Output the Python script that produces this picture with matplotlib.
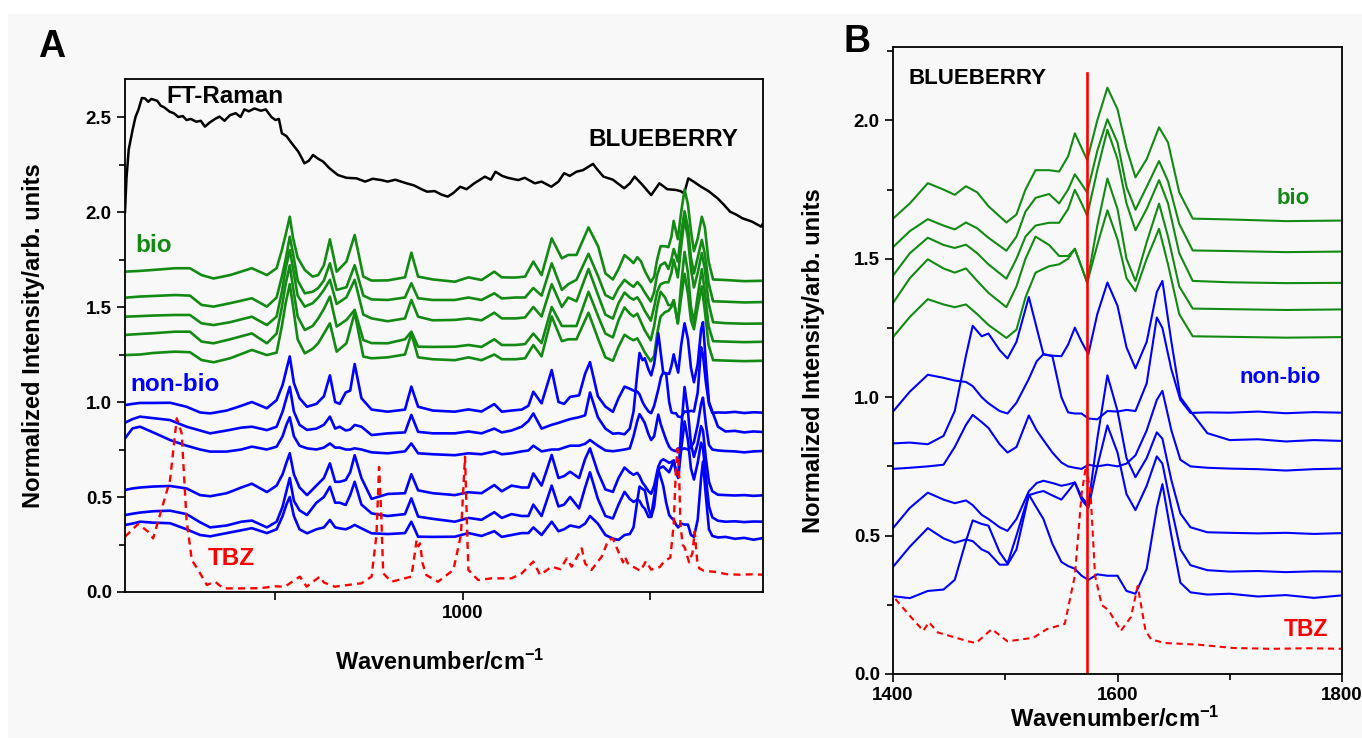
import matplotlib
matplotlib.use('Agg')
import matplotlib.pyplot as plt
from matplotlib.patches import Rectangle
from matplotlib.ticker import MultipleLocator, FixedLocator, FixedFormatter, FormatStrFormatter

plt.rcParams['font.family'] = ['Liberation Sans', 'DejaVu Sans']
plt.rcParams['font.weight'] = 'bold'
plt.rcParams['axes.labelweight'] = 'bold'
plt.rcParams['mathtext.default'] = 'regular'

# ---------------- data (wavenumber / cm-1, normalized intensity) ----------------
# bio samples (green), shared wavenumber grid
bio_x = [100, 140, 175, 233, 273, 304, 336, 380, 438, 478,
         504, 518, 528, 539, 548, 560, 579, 600, 615, 630,
         646, 664, 690, 712, 735, 757, 800, 846, 863, 881,
         920, 979, 1015, 1050, 1084, 1104, 1140, 1166, 1188, 1210,
         1237, 1264, 1281, 1303, 1335, 1361, 1380, 1400, 1415, 1431,
         1445, 1455, 1465, 1475, 1485, 1501, 1510, 1518, 1527, 1539,
         1548, 1556, 1562, 1568, 1573, 1582, 1591, 1600, 1608, 1616,
         1626, 1637, 1645, 1655, 1667, 1700, 1750, 1800]

bio_1 = [1.686, 1.690, 1.695, 1.704, 1.704, 1.668, 1.650, 1.668, 1.704, 1.668,
         1.704, 1.800, 1.880, 1.975, 1.860, 1.760, 1.695, 1.660, 1.668, 1.720,
         1.856, 1.686, 1.739, 1.879, 1.660, 1.639, 1.640, 1.656, 1.786, 1.660,
         1.645, 1.633, 1.656, 1.642, 1.686, 1.656, 1.655, 1.660, 1.739, 1.668,
         1.861, 1.756, 1.774, 1.774, 1.919, 1.818, 1.677, 1.645, 1.700, 1.773,
         1.750, 1.731, 1.762, 1.740, 1.690, 1.631, 1.660, 1.750, 1.820, 1.820,
         1.815, 1.870, 1.953, 1.900, 1.857, 2.000, 2.118, 2.040, 1.900, 1.794,
         1.860, 1.975, 1.920, 1.740, 1.645, 1.642, 1.636, 1.638]
bio_2 = [1.549, 1.555, 1.558, 1.563, 1.560, 1.511, 1.502, 1.520, 1.546, 1.502,
         1.550, 1.660, 1.750, 1.870, 1.780, 1.640, 1.572, 1.580, 1.600, 1.640,
         1.730, 1.590, 1.604, 1.720, 1.560, 1.540, 1.537, 1.550, 1.625, 1.546,
         1.537, 1.537, 1.550, 1.537, 1.572, 1.545, 1.550, 1.550, 1.600, 1.560,
         1.730, 1.590, 1.620, 1.643, 1.780, 1.660, 1.563, 1.542, 1.600, 1.643,
         1.620, 1.606, 1.631, 1.610, 1.576, 1.529, 1.580, 1.670, 1.720, 1.734,
         1.700, 1.750, 1.805, 1.770, 1.739, 1.890, 2.004, 1.920, 1.760, 1.677,
         1.760, 1.853, 1.780, 1.626, 1.530, 1.528, 1.524, 1.526]
bio_3 = [1.449, 1.452, 1.455, 1.458, 1.458, 1.414, 1.405, 1.420, 1.449, 1.405,
         1.450, 1.580, 1.700, 1.800, 1.700, 1.560, 1.502, 1.520, 1.550, 1.590,
         1.643, 1.516, 1.551, 1.643, 1.460, 1.440, 1.425, 1.440, 1.537, 1.449,
         1.430, 1.432, 1.440, 1.430, 1.470, 1.440, 1.440, 1.445, 1.500, 1.450,
         1.620, 1.500, 1.550, 1.530, 1.700, 1.560, 1.460, 1.439, 1.520, 1.576,
         1.550, 1.539, 1.551, 1.520, 1.480, 1.428, 1.500, 1.580, 1.620, 1.630,
         1.630, 1.680, 1.749, 1.700, 1.656, 1.820, 1.966, 1.860, 1.700, 1.603,
         1.680, 1.784, 1.700, 1.520, 1.420, 1.415, 1.412, 1.413]
bio_4 = [1.353, 1.358, 1.362, 1.370, 1.370, 1.318, 1.309, 1.330, 1.361, 1.309,
         1.360, 1.500, 1.620, 1.720, 1.600, 1.450, 1.379, 1.400, 1.440, 1.490,
         1.555, 1.397, 1.432, 1.485, 1.326, 1.310, 1.309, 1.330, 1.370, 1.291,
         1.290, 1.291, 1.300, 1.290, 1.330, 1.300, 1.300, 1.305, 1.360, 1.310,
         1.500, 1.400, 1.400, 1.400, 1.580, 1.450, 1.360, 1.340, 1.430, 1.498,
         1.465, 1.450, 1.465, 1.420, 1.377, 1.325, 1.400, 1.500, 1.580, 1.550,
         1.510, 1.510, 1.536, 1.470, 1.414, 1.620, 1.790, 1.680, 1.500, 1.420,
         1.560, 1.699, 1.580, 1.400, 1.320, 1.318, 1.315, 1.317]
bio_5 = [1.247, 1.250, 1.258, 1.265, 1.262, 1.221, 1.209, 1.230, 1.274, 1.247,
         1.260, 1.400, 1.520, 1.620, 1.500, 1.330, 1.256, 1.280, 1.310, 1.360,
         1.414, 1.265, 1.309, 1.470, 1.239, 1.230, 1.235, 1.250, 1.360, 1.235,
         1.225, 1.220, 1.235, 1.220, 1.250, 1.225, 1.225, 1.230, 1.300, 1.240,
         1.450, 1.320, 1.330, 1.330, 1.470, 1.330, 1.235, 1.217, 1.290, 1.354,
         1.335, 1.325, 1.335, 1.300, 1.261, 1.214, 1.244, 1.360, 1.450, 1.473,
         1.480, 1.500, 1.536, 1.470, 1.414, 1.550, 1.675, 1.570, 1.430, 1.383,
         1.500, 1.608, 1.480, 1.300, 1.220, 1.218, 1.215, 1.217]

# non-bio samples (blue), shared wavenumber grid
nonbio_x = [100, 120, 140, 175, 220, 264, 300, 327, 371, 410,
            438, 478, 504, 520, 530, 539, 550, 565, 585, 610,
            630, 646, 660, 672, 688, 700, 712, 730, 757, 800,
            846, 863, 881, 920, 979, 1015, 1050, 1084, 1104, 1130,
            1157, 1175, 1188, 1210, 1237, 1255, 1270, 1286, 1310, 1326,
            1339, 1360, 1380, 1400, 1415, 1431, 1445, 1455, 1465, 1471,
            1479, 1485, 1495, 1502, 1510, 1521, 1528, 1534, 1542, 1550,
            1556, 1562, 1568, 1574, 1582, 1591, 1600, 1608, 1616, 1626,
            1635, 1640, 1648, 1656, 1665, 1680, 1700, 1725, 1750, 1775,
            1800]

nonbio_1 = [0.984, 0.990, 0.995, 0.995, 0.996, 0.975, 0.945, 0.940, 0.955, 0.980,
            1.000, 0.967, 1.010, 1.090, 1.170, 1.240, 1.100, 1.020, 0.975, 0.990,
            1.030, 1.140, 1.000, 0.990, 1.050, 1.060, 1.200, 1.020, 0.960, 0.949,
            0.960, 1.081, 0.975, 0.955, 0.949, 0.961, 0.950, 0.989, 0.949, 0.955,
            0.960, 0.980, 1.054, 0.993, 1.168, 1.000, 0.990, 1.027, 1.035, 1.149,
            1.210, 1.030, 0.976, 0.948, 1.020, 1.081, 1.070, 1.060, 1.055, 1.040,
            1.000, 0.978, 0.950, 0.941, 0.980, 1.066, 1.130, 1.155, 1.148, 1.000,
            0.945, 0.941, 0.941, 0.923, 0.920, 0.950, 0.948, 0.954, 0.950, 1.050,
            1.288, 1.250, 1.100, 0.990, 0.943, 0.945, 0.944, 0.948, 0.942, 0.946,
            0.944]
nonbio_2 = [0.891, 0.910, 0.923, 0.915, 0.905, 0.870, 0.850, 0.835, 0.850, 0.865,
            0.870, 0.852, 0.870, 0.950, 1.020, 1.080, 0.950, 0.880, 0.853, 0.860,
            0.880, 0.923, 0.860, 0.870, 0.850, 0.855, 0.879, 0.870, 0.826, 0.835,
            0.840, 0.932, 0.843, 0.835, 0.835, 0.845, 0.835, 0.860, 0.840, 0.850,
            0.870, 0.900, 0.940, 0.860, 0.880, 0.890, 0.900, 0.910, 0.920, 0.930,
            1.050, 0.920, 0.860, 0.833, 0.836, 0.830, 0.860, 0.950, 1.150, 1.258,
            1.220, 1.230, 1.170, 1.140, 1.200, 1.362, 1.250, 1.155, 1.150, 1.148,
            1.190, 1.251, 1.200, 1.155, 1.300, 1.414, 1.330, 1.180, 1.104, 1.200,
            1.380, 1.420, 1.200, 1.000, 0.950, 0.870, 0.845, 0.848, 0.840, 0.845,
            0.842]
nonbio_3 = [0.809, 0.861, 0.870, 0.840, 0.800, 0.770, 0.750, 0.739, 0.739, 0.750,
            0.765, 0.750, 0.765, 0.820, 0.880, 0.920, 0.820, 0.770, 0.756, 0.750,
            0.760, 0.782, 0.760, 0.760, 0.750, 0.750, 0.756, 0.750, 0.735, 0.730,
            0.740, 0.782, 0.730, 0.725, 0.720, 0.730, 0.725, 0.740, 0.725, 0.730,
            0.740, 0.745, 0.770, 0.740, 0.750, 0.750, 0.760, 0.770, 0.770, 0.780,
            0.800, 0.770, 0.745, 0.741, 0.745, 0.750, 0.756, 0.820, 0.900, 0.936,
            0.910, 0.889, 0.830, 0.800, 0.820, 0.934, 0.880, 0.845, 0.800, 0.764,
            0.750, 0.745, 0.741, 0.756, 0.750, 0.756, 0.750, 0.760, 0.790, 0.880,
            0.990, 1.023, 0.880, 0.774, 0.750, 0.745, 0.742, 0.740, 0.735, 0.740,
            0.742]
nonbio_4 = [0.537, 0.545, 0.550, 0.555, 0.558, 0.545, 0.510, 0.504, 0.520, 0.550,
            0.570, 0.526, 0.560, 0.620, 0.680, 0.730, 0.620, 0.550, 0.510, 0.560,
            0.600, 0.677, 0.580, 0.580, 0.589, 0.630, 0.720, 0.600, 0.490, 0.516,
            0.520, 0.620, 0.535, 0.520, 0.510, 0.525, 0.520, 0.563, 0.530, 0.560,
            0.550, 0.550, 0.624, 0.560, 0.721, 0.600, 0.610, 0.633, 0.600, 0.700,
            0.756, 0.630, 0.540, 0.527, 0.600, 0.655, 0.630, 0.617, 0.627, 0.610,
            0.575, 0.560, 0.530, 0.517, 0.560, 0.660, 0.690, 0.698, 0.690, 0.680,
            0.685, 0.692, 0.640, 0.610, 0.850, 1.079, 0.950, 0.780, 0.711, 0.780,
            0.873, 0.850, 0.700, 0.580, 0.530, 0.512, 0.510, 0.508, 0.510, 0.506,
            0.509]
nonbio_5 = [0.405, 0.412, 0.418, 0.425, 0.428, 0.410, 0.367, 0.340, 0.350, 0.370,
            0.376, 0.340, 0.370, 0.450, 0.530, 0.600, 0.480, 0.430, 0.405, 0.470,
            0.500, 0.554, 0.470, 0.470, 0.458, 0.510, 0.580, 0.460, 0.414, 0.400,
            0.410, 0.493, 0.397, 0.385, 0.370, 0.390, 0.380, 0.420, 0.390, 0.410,
            0.400, 0.400, 0.460, 0.400, 0.560, 0.450, 0.460, 0.500, 0.440, 0.550,
            0.630, 0.490, 0.400, 0.387, 0.460, 0.527, 0.490, 0.474, 0.486, 0.480,
            0.450, 0.439, 0.395, 0.395, 0.450, 0.646, 0.655, 0.661, 0.645, 0.630,
            0.660, 0.692, 0.630, 0.600, 0.750, 0.898, 0.800, 0.650, 0.592, 0.680,
            0.786, 0.760, 0.600, 0.450, 0.393, 0.375, 0.370, 0.372, 0.368, 0.371,
            0.370]
nonbio_6 = [0.353, 0.360, 0.370, 0.365, 0.362, 0.330, 0.300, 0.293, 0.310, 0.325,
            0.336, 0.310, 0.330, 0.400, 0.460, 0.500, 0.400, 0.330, 0.309, 0.330,
            0.340, 0.379, 0.340, 0.335, 0.330, 0.340, 0.353, 0.335, 0.309, 0.305,
            0.310, 0.370, 0.291, 0.290, 0.291, 0.310, 0.295, 0.320, 0.290, 0.300,
            0.310, 0.310, 0.340, 0.300, 0.370, 0.320, 0.330, 0.350, 0.340, 0.360,
            0.400, 0.360, 0.300, 0.281, 0.274, 0.300, 0.305, 0.340, 0.480, 0.555,
            0.542, 0.536, 0.440, 0.399, 0.500, 0.648, 0.600, 0.560, 0.470, 0.405,
            0.390, 0.380, 0.355, 0.340, 0.360, 0.355, 0.355, 0.300, 0.290, 0.380,
            0.600, 0.686, 0.500, 0.330, 0.295, 0.287, 0.290, 0.280, 0.285, 0.275,
            0.284]

# TBZ reference (red dashed)
tbz_x = [100, 135, 160, 175, 193, 220, 238, 251, 264, 278,
         295, 318, 340, 362, 406, 460, 500, 526, 566, 584,
         619, 630, 659, 730, 757, 770, 777, 783, 788, 810,
         863, 872, 877, 882, 886, 893, 903, 934, 975, 995,
         1006, 1012, 1015, 1041, 1077, 1130, 1157, 1188, 1206, 1237,
         1260, 1277, 1290, 1317, 1326, 1343, 1370, 1388, 1400, 1415,
         1427, 1432, 1440, 1467, 1474, 1488, 1502, 1525, 1537, 1553,
         1562, 1568, 1572, 1576, 1580, 1586, 1592, 1603, 1612, 1618,
         1625, 1630, 1642, 1672, 1703, 1737, 1770, 1800]
tbz_y = [0.291, 0.358, 0.320, 0.282, 0.405, 0.589, 0.914, 0.835, 0.379, 0.168,
         0.116, 0.037, 0.054, 0.019, 0.019, 0.020, 0.030, 0.028, 0.081, 0.028,
         0.081, 0.050, 0.028, 0.046, 0.081, 0.300, 0.658, 0.400, 0.098, 0.054,
         0.081, 0.200, 0.274, 0.240, 0.256, 0.150, 0.089, 0.054, 0.116, 0.300,
         0.712, 0.300, 0.116, 0.063, 0.072, 0.072, 0.098, 0.160, 0.090, 0.133,
         0.120, 0.177, 0.133, 0.230, 0.150, 0.116, 0.186, 0.274, 0.281, 0.210,
         0.156, 0.187, 0.150, 0.118, 0.112, 0.162, 0.118, 0.131, 0.162, 0.181,
         0.355, 0.650, 0.754, 0.655, 0.355, 0.249, 0.231, 0.156, 0.206, 0.318,
         0.156, 0.125, 0.112, 0.106, 0.094, 0.091, 0.093, 0.091]

# FT-Raman spectrum (black, panel A only)
ft_x = [100, 104, 110, 120, 128, 136, 145, 153, 162, 170,
        180, 186, 195, 205, 219, 230, 242, 254, 264, 275,
        290, 302, 313, 325, 340, 352, 365, 380, 395, 408,
        418, 430, 445, 462, 475, 490, 501, 510, 518, 530,
        545, 562, 572, 578, 590, 601, 615, 628, 645, 667,
        690, 717, 740, 760, 783, 800, 820, 850, 870, 890,
        905, 925, 945, 960, 975, 993, 1010, 1030, 1059, 1075,
        1087, 1105, 1120, 1148, 1165, 1192, 1210, 1236, 1255, 1270,
        1285, 1303, 1320, 1347, 1360, 1375, 1400, 1430, 1445, 1458,
        1480, 1502, 1524, 1545, 1568, 1580, 1590, 1601, 1615, 1635,
        1655, 1679, 1695, 1712, 1730, 1745, 1770, 1795, 1800]
ft_y = [2.000, 2.180, 2.330, 2.430, 2.500, 2.540, 2.600, 2.598, 2.580, 2.595,
        2.589, 2.585, 2.560, 2.550, 2.528, 2.520, 2.500, 2.505, 2.484, 2.490,
        2.475, 2.480, 2.449, 2.470, 2.490, 2.502, 2.480, 2.510, 2.520, 2.500,
        2.540, 2.530, 2.545, 2.533, 2.540, 2.500, 2.484, 2.490, 2.414, 2.400,
        2.360, 2.317, 2.280, 2.256, 2.270, 2.300, 2.280, 2.265, 2.230, 2.195,
        2.180, 2.177, 2.160, 2.175, 2.168, 2.160, 2.170, 2.151, 2.140, 2.120,
        2.107, 2.110, 2.090, 2.081, 2.100, 2.133, 2.120, 2.150, 2.186, 2.170,
        2.212, 2.190, 2.180, 2.168, 2.180, 2.151, 2.160, 2.133, 2.160, 2.204,
        2.190, 2.212, 2.220, 2.253, 2.220, 2.186, 2.170, 2.125, 2.150, 2.186,
        2.140, 2.089, 2.151, 2.120, 2.116, 2.110, 2.098, 2.177, 2.160, 2.133,
        2.110, 2.072, 2.040, 2.002, 1.985, 1.967, 1.950, 1.923, 1.940]

bio_series = [bio_1, bio_2, bio_3, bio_4, bio_5]
nonbio_series = [nonbio_1, nonbio_2, nonbio_3, nonbio_4, nonbio_5, nonbio_6]

marker_wavenumber = 1573   # red vertical line in panel B
marker_top = 2.17

GREEN = '#138a13'
BLUE = '#0000ff'
RED = '#ff0000'
BG = '#f8f8f8'

fig = plt.figure(figsize=(13.62, 7.38), dpi=100)
fig.patches.append(Rectangle((8 / 1362, 0), 1, 724 / 738, transform=fig.transFigure,
                             fc=BG, ec='none', zorder=-10))

axA = fig.add_axes([125 / 1362, 146 / 738, 638 / 1362, 513 / 738])
axB = fig.add_axes([893 / 1362, 64 / 738, 449 / 1362, 627 / 738])


def style_axis(ax):
    ax.set_facecolor(BG)
    for s in ax.spines.values():
        s.set_linewidth(1.3)
    ax.tick_params(which='both', direction='out', top=False, right=False,
                   labelsize=13.5, width=1.2)
    ax.tick_params(which='major', length=6)
    ax.tick_params(which='minor', length=4)
    for lab in ax.get_xticklabels() + ax.get_yticklabels():
        lab.set_fontweight('bold')


# ---------------- panel A ----------------
axA.plot(ft_x, ft_y, color='black', lw=1.8)
for ys in bio_series:
    axA.plot(bio_x, ys, color=GREEN, lw=1.9)
for ys in nonbio_series:
    axA.plot(nonbio_x, ys, color=BLUE, lw=1.9)
axA.plot(tbz_x, tbz_y, color=RED, lw=1.7, dashes=(3, 2.2))

axA.set_xlim(100, 1800)
axA.set_ylim(0, 2.7)
axA.xaxis.set_major_locator(FixedLocator([500, 1000, 1500]))
axA.xaxis.set_major_formatter(FixedFormatter(['', '1000', '']))
axA.yaxis.set_major_locator(MultipleLocator(0.5))
axA.yaxis.set_minor_locator(MultipleLocator(0.25))
axA.yaxis.set_major_formatter(FormatStrFormatter('%.1f'))
style_axis(axA)

axA.text(210, 2.61, 'FT-Raman', fontsize=17.5, va='center')
axA.text(1334, 2.38, 'BLUEBERRY', fontsize=17.5, va='center')
axA.text(127, 1.826, 'bio', fontsize=17.5, va='center', color=GREEN)
axA.text(113, 1.09, 'non-bio', fontsize=17.5, va='center', color=BLUE)
axA.text(321, 0.174, 'TBZ', fontsize=17.5, va='center', color=RED)

axA.set_xlabel('Wavenumber/cm$^{-1}$', fontsize=17)
axA.xaxis.set_label_coords(0.494, -0.113)
axA.set_ylabel('Normalized Intensity/arb. units', fontsize=17)
axA.yaxis.set_label_coords(-0.125, 0.5)

# ---------------- panel B ----------------
for ys in bio_series:
    axB.plot(bio_x, ys, color=GREEN, lw=1.5)
for ys in nonbio_series:
    axB.plot(nonbio_x, ys, color=BLUE, lw=1.5)
axB.plot(tbz_x, tbz_y, color=RED, lw=1.5, dashes=(3, 2.2))
axB.plot([marker_wavenumber, marker_wavenumber], [0, marker_top], color=RED, lw=1.9)

axB.set_xlim(1400, 1800)
axB.set_ylim(0, 2.265)
axB.xaxis.set_major_locator(MultipleLocator(200))
axB.xaxis.set_minor_locator(MultipleLocator(100))
axB.yaxis.set_major_locator(MultipleLocator(0.5))
axB.yaxis.set_minor_locator(MultipleLocator(0.25))
axB.yaxis.set_major_formatter(FormatStrFormatter('%.1f'))
style_axis(axB)

axB.text(1414, 2.15, 'BLUEBERRY', fontsize=16, va='center')
axB.text(1742, 1.718, 'bio', fontsize=16, va='center', color=GREEN)
axB.text(1709, 1.072, 'non-bio', fontsize=16, va='center', color=BLUE)
axB.text(1748, 0.162, 'TBZ', fontsize=16.5, va='center', color=RED)

axB.set_xlabel('Wavenumber/cm$^{-1}$', fontsize=17)
axB.xaxis.set_label_coords(0.494, -0.052)
axB.set_ylabel('Normalized Intensity/arb. units', fontsize=17)
axB.yaxis.set_label_coords(-0.152, 0.5)

fig.text(52 / 1362, 1 - 47 / 738, 'A', fontsize=27, ha='center', va='center')
fig.text(857 / 1362, 1 - 42 / 738, 'B', fontsize=27, ha='center', va='center')

fig.savefig('out.png', dpi=100, facecolor='white')
